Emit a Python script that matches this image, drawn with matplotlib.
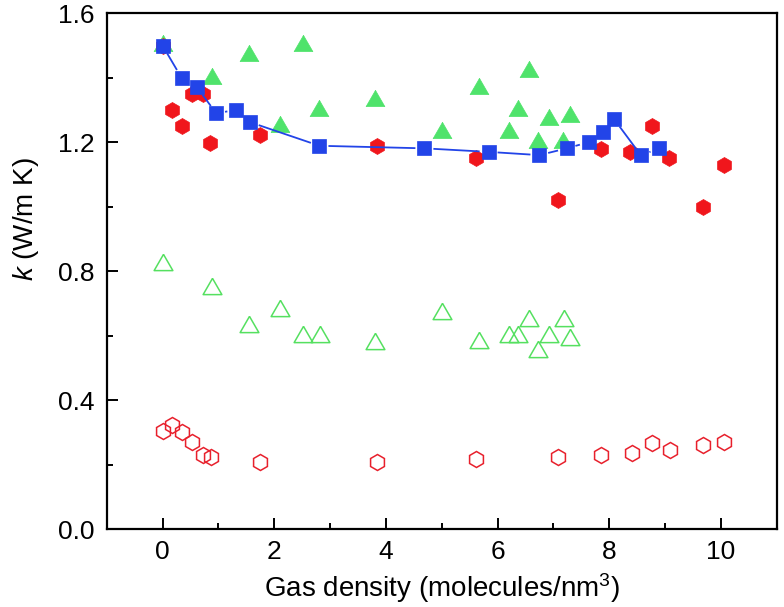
import matplotlib
matplotlib.use("Agg")
import matplotlib.pyplot as plt
from matplotlib.ticker import MultipleLocator
import numpy as np

plt.rcParams['font.family'] = ['Liberation Sans', 'DejaVu Sans']
plt.rcParams['mathtext.fontset'] = 'custom'
plt.rcParams['mathtext.rm'] = 'Liberation Sans'
plt.rcParams['mathtext.it'] = 'Liberation Sans:italic'

# ---- data ----
sq_x = [0.0, 0.34, 0.62, 0.96, 1.32, 1.57, 2.81, 4.69, 5.84, 6.75, 7.24, 7.63, 7.89, 8.09, 8.57, 8.89]
sq_y = [1.50, 1.40, 1.37, 1.29, 1.30, 1.262, 1.189, 1.181, 1.170, 1.160, 1.181, 1.200, 1.231, 1.271, 1.159, 1.181]

hexf_x = [0.0, 0.17, 0.34, 0.53, 0.72, 0.855, 1.75, 3.84, 5.62, 7.08, 7.86, 8.38, 8.76, 9.07, 9.68, 10.05]
hexf_y = [1.497, 1.300, 1.251, 1.349, 1.349, 1.197, 1.222, 1.189, 1.150, 1.021, 1.180, 1.171, 1.250, 1.150, 1.000, 1.129]

trif_x = [0.0, 0.88, 1.54, 2.52, 2.11, 2.81, 3.81, 5.00, 5.66, 6.21, 6.36, 6.57, 6.73, 6.92, 7.17, 7.30]
trif_y = [1.507, 1.405, 1.476, 1.507, 1.256, 1.305, 1.336, 1.238, 1.374, 1.238, 1.307, 1.426, 1.207, 1.277, 1.207, 1.287]

trio_x = [0.0, 0.88, 1.54, 2.10, 2.51, 2.82, 3.81, 5.01, 5.66, 6.21, 6.36, 6.57, 6.73, 6.92, 7.19, 7.30]
trio_y = [0.827, 0.755, 0.635, 0.685, 0.604, 0.604, 0.583, 0.676, 0.586, 0.605, 0.605, 0.656, 0.558, 0.605, 0.656, 0.597]

hexo_x = [0.0, 0.17, 0.34, 0.53, 0.72, 0.87, 1.75, 3.84, 5.62, 7.08, 7.86, 8.41, 8.77, 9.08, 9.68, 10.05]
hexo_y = [0.305, 0.323, 0.301, 0.271, 0.230, 0.224, 0.207, 0.207, 0.216, 0.224, 0.230, 0.237, 0.266, 0.245, 0.261, 0.270]

x_ticks = [0, 2, 4, 6, 8, 10]
y_ticks = [0.0, 0.4, 0.8, 1.2, 1.6]

RED = '#f0161c'
GREEN = '#4fe36b'
BLUE = '#2244e8'

tri = [(0, 0.433), (-0.5, -0.433), (0.5, -0.433), (0, 0.433)]

fig = plt.figure(figsize=(7.84, 6.07), dpi=100)
ax = fig.add_axes([0.1361, 0.1285, 0.8546, 0.8496])
ax.set_xlim(-1, 11)
ax.set_ylim(0, 1.6)

ax.plot(hexo_x, hexo_y, linestyle='none', marker='h', ms=11.5, mfc='none', mec='#e8202c', mew=1.1)
ax.plot(trio_x, trio_y, linestyle='none', marker=tri, ms=13.5, mfc='none', mec='#55e060', mew=1.1)
ax.plot(trif_x, trif_y, linestyle='none', marker=tri, ms=13.5, mfc=GREEN, mec=GREEN, mew=0.5)
ax.plot(hexf_x, hexf_y, linestyle='none', marker='h', ms=11.5, mfc=RED, mec=RED, mew=0.5)

# connecting line with small gaps at the symbols (Origin style)
pix = ax.transData.transform(np.column_stack([sq_x, sq_y]))
inv = ax.transData.inverted()
gap = 9.0
for p0, p1 in zip(pix[:-1], pix[1:]):
    d = p1 - p0
    L = np.hypot(*d)
    if L > 2 * gap + 1:
        u = d / L
        a = inv.transform(p0 + u * gap)
        b = inv.transform(p1 - u * gap)
        ax.plot([a[0], b[0]], [a[1], b[1]], color=BLUE, lw=1.3, solid_capstyle='butt')
ax.plot(sq_x, sq_y, linestyle='none', marker='s', ms=9.5, mfc=BLUE, mec=BLUE, mew=0.5)

ax.set_xticks(x_ticks)
ax.set_yticks(y_ticks)
ax.set_yticklabels([f"{v:.1f}" for v in y_ticks])
ax.xaxis.set_minor_locator(MultipleLocator(1))
ax.yaxis.set_minor_locator(MultipleLocator(0.2))
ax.tick_params(which='both', direction='in', width=1.4, top=False, right=False, labelsize=19)
ax.tick_params(which='major', length=8)
ax.tick_params(which='minor', length=4.3)
ax.tick_params(axis='x', pad=8)
ax.tick_params(axis='y', pad=9)
for s in ax.spines.values():
    s.set_linewidth(1.6)

fig.text(0.5635, 0.0165, "Gas density (molecules/nm$^3$)", ha='center', va='baseline', fontsize=20)
fig.text(0.033, (607 - 219) / 607, "$k$ (W/m K)", ha='center', va='center', rotation=90, fontsize=20)

fig.savefig("out.png", dpi=100)
